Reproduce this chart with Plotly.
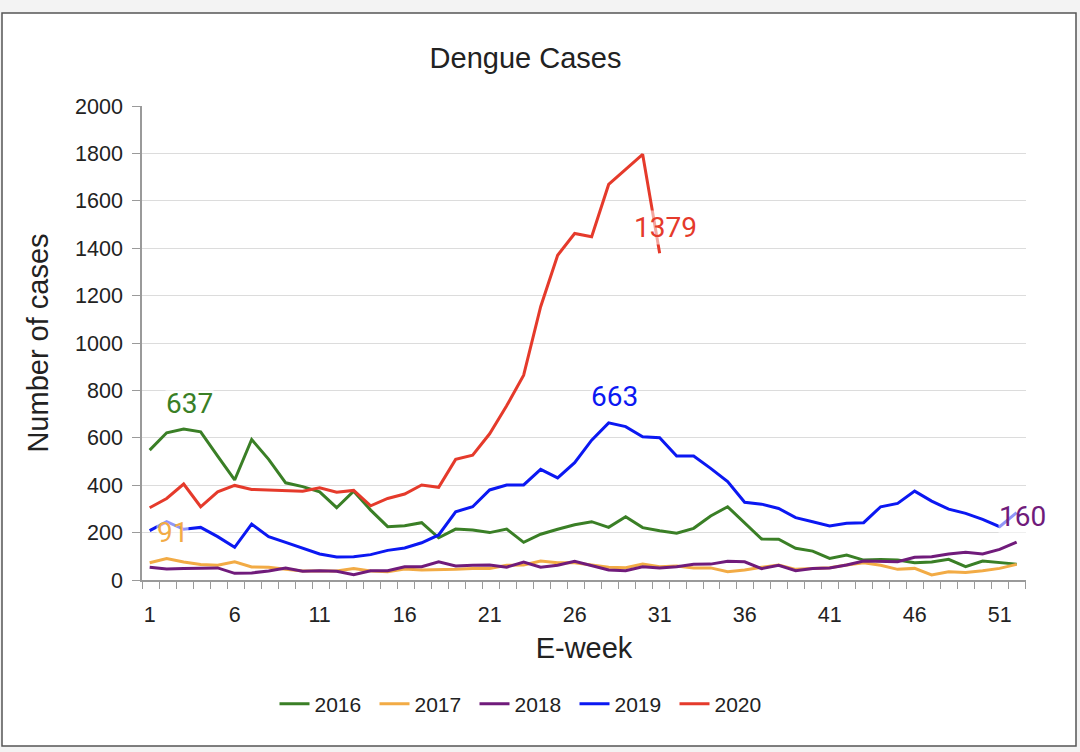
import plotly.graph_objects as go

# ---------------- data ----------------
weeks = list(range(1, 53))
years = ["2016", "2017", "2018", "2019", "2020"]

cases_2016 = [548, 621, 637, 625, 523, 422, 593, 509, 410, 394, 372, 305, 375, 295, 225, 229,
              242, 178, 215, 211, 200, 215, 159, 193, 214, 233, 246, 222, 267, 221, 208, 197,
              218, 270, 309, 242, 173, 172, 134, 122, 91, 105, 84, 86, 84, 73, 76, 87, 56, 80,
              73, 67]
cases_2017 = [73, 91, 76, 65, 62, 77, 55, 54, 45, 38, 38, 38, 48, 38, 35, 46, 42, 42, 45, 49,
              49, 62, 63, 80, 73, 73, 63, 54, 52, 67, 56, 59, 51, 51, 35, 42, 54, 63, 45, 49,
              52, 63, 73, 62, 45, 49, 21, 35, 32, 39, 49, 66]
cases_2018 = [54, 46, 48, 51, 51, 28, 30, 38, 51, 37, 39, 37, 22, 39, 39, 56, 56, 77, 59, 62,
              63, 54, 76, 54, 62, 79, 59, 42, 39, 56, 51, 56, 66, 67, 79, 77, 48, 62, 39, 49,
              51, 63, 80, 80, 77, 96, 98, 110, 117, 110, 129, 160]
cases_2019 = [208, 246, 214, 222, 183, 138, 236, 183, 159, 134, 110, 97, 98, 107, 125, 135,
              157, 190, 288, 309, 380, 401, 401, 467, 431, 495, 590, 663, 647, 604, 600, 523,
              523, 471, 415, 328, 320, 302, 263, 246, 228, 239, 242, 309, 323, 375, 333, 299,
              281, 256, 225, 284]
cases_2020 = [305, 344, 405, 309, 372, 399, 382, 380, 375, 375, 389, 370, 378, 313, 344, 363,
              401, 391, 509, 527, 617, 735, 864, 1153, 1370, 1462, 1448, 1669, 1733, 1796,
              1379] + [None] * 21

series = [cases_2016, cases_2017, cases_2018, cases_2019, cases_2020]
colors = ["#3a7f26", "#f2ab45", "#701b7b", "#0b18f2", "#e53a2b"]

# week at which each series carries a value label
label_weeks = [3, 2, 52, 28, 31]

x_tick_weeks = [1, 6, 11, 16, 21, 26, 31, 36, 41, 46, 51]

# ---------------- layout geometry ----------------
W, H = 1080, 752
L, R, T, B = 142, 54, 106, 172
PW, PH = W - L - R, H - T - B


def px_x(px):
    return (px - L) / PW


def px_y(py):
    return (H - B - py) / PH


fig = go.Figure()

for name, vals, col in zip(years, series, colors):
    fig.add_trace(go.Scatter(x=weeks, y=vals, mode="lines", name=name,
                             line=dict(color=col, width=3), connectgaps=False))

annotations = []
for vals, col, wk in zip(series, colors, label_weeks):
    v = vals[wk - 1]
    annotations.append(dict(x=wk, y=v, xref="x", yref="y", text=str(v), showarrow=False,
                            xanchor="center", yanchor="middle", xshift=6, yshift=26,
                            font=dict(family="Roboto", size=28, color=col),
                            bgcolor="rgba(255,255,255,0.55)", borderpad=0))

tick_font = dict(family="Liberation Sans, Arial", size=21.5, color="#222222")
title_font = dict(family="Liberation Sans, Arial", size=29, color="#222222")

fig.update_layout(
    width=W, height=H,
    margin=dict(l=L, r=R, t=T, b=B, autoexpand=False),
    paper_bgcolor="#f3f3f3",
    plot_bgcolor="white",
    title=dict(text="Dengue Cases", x=525.5 / W, xref="container", xanchor="center",
               y=1 - 58 / H, yref="container", yanchor="middle",
               font=dict(family="Liberation Sans, Arial", size=29, color="#222222")),
    shapes=[dict(type="rect", xref="paper", yref="paper",
                 x0=px_x(2), x1=px_x(1076), y0=px_y(746), y1=px_y(13),
                 fillcolor="white", line=dict(color="#555555", width=1.5), layer="below")],
    annotations=annotations,
    showlegend=True,
    legend=dict(orientation="h", xref="container", yref="container",
                x=524.5 / W, xanchor="center", y=1 - 704 / H, yanchor="middle",
                font=dict(family="Liberation Sans, Arial", size=21, color="#222222"),
                bgcolor="rgba(0,0,0,0)", entrywidth=55, entrywidthmode="pixels"),
    xaxis=dict(range=[0.549, 52.551], tickmode="array", tickvals=x_tick_weeks,
               ticktext=[str(w) for w in x_tick_weeks], ticks="outside", ticklen=7,
               tickcolor="rgba(0,0,0,0)", showline=True, linecolor="#9a9a9a", linewidth=1.5,
               showgrid=False, zeroline=False, tickfont=tick_font, ticklabelstandoff=7,
               minor=dict(tickmode="linear", tick0=0.55, dtick=1, ticks="outside",
                          ticklen=7, tickcolor="#9a9a9a", tickwidth=1, showgrid=False),
               title=dict(text="E-week", font=title_font, standoff=12)),
    yaxis=dict(range=[0, 2000], tickmode="linear", tick0=0, dtick=200, ticks="outside",
               ticklen=8, tickcolor="#9a9a9a", showline=True, linecolor="#9a9a9a",
               linewidth=1.5, showgrid=True, gridcolor="#dcdcdc", gridwidth=1.2,
               zeroline=False, tickfont=tick_font, ticklabelstandoff=5,
               title=dict(text="Number of cases", font=title_font, standoff=18)),
)

fig.write_html("out.html", config={"displayModeBar": False},
               post_script="document.body.style.margin='0';")
